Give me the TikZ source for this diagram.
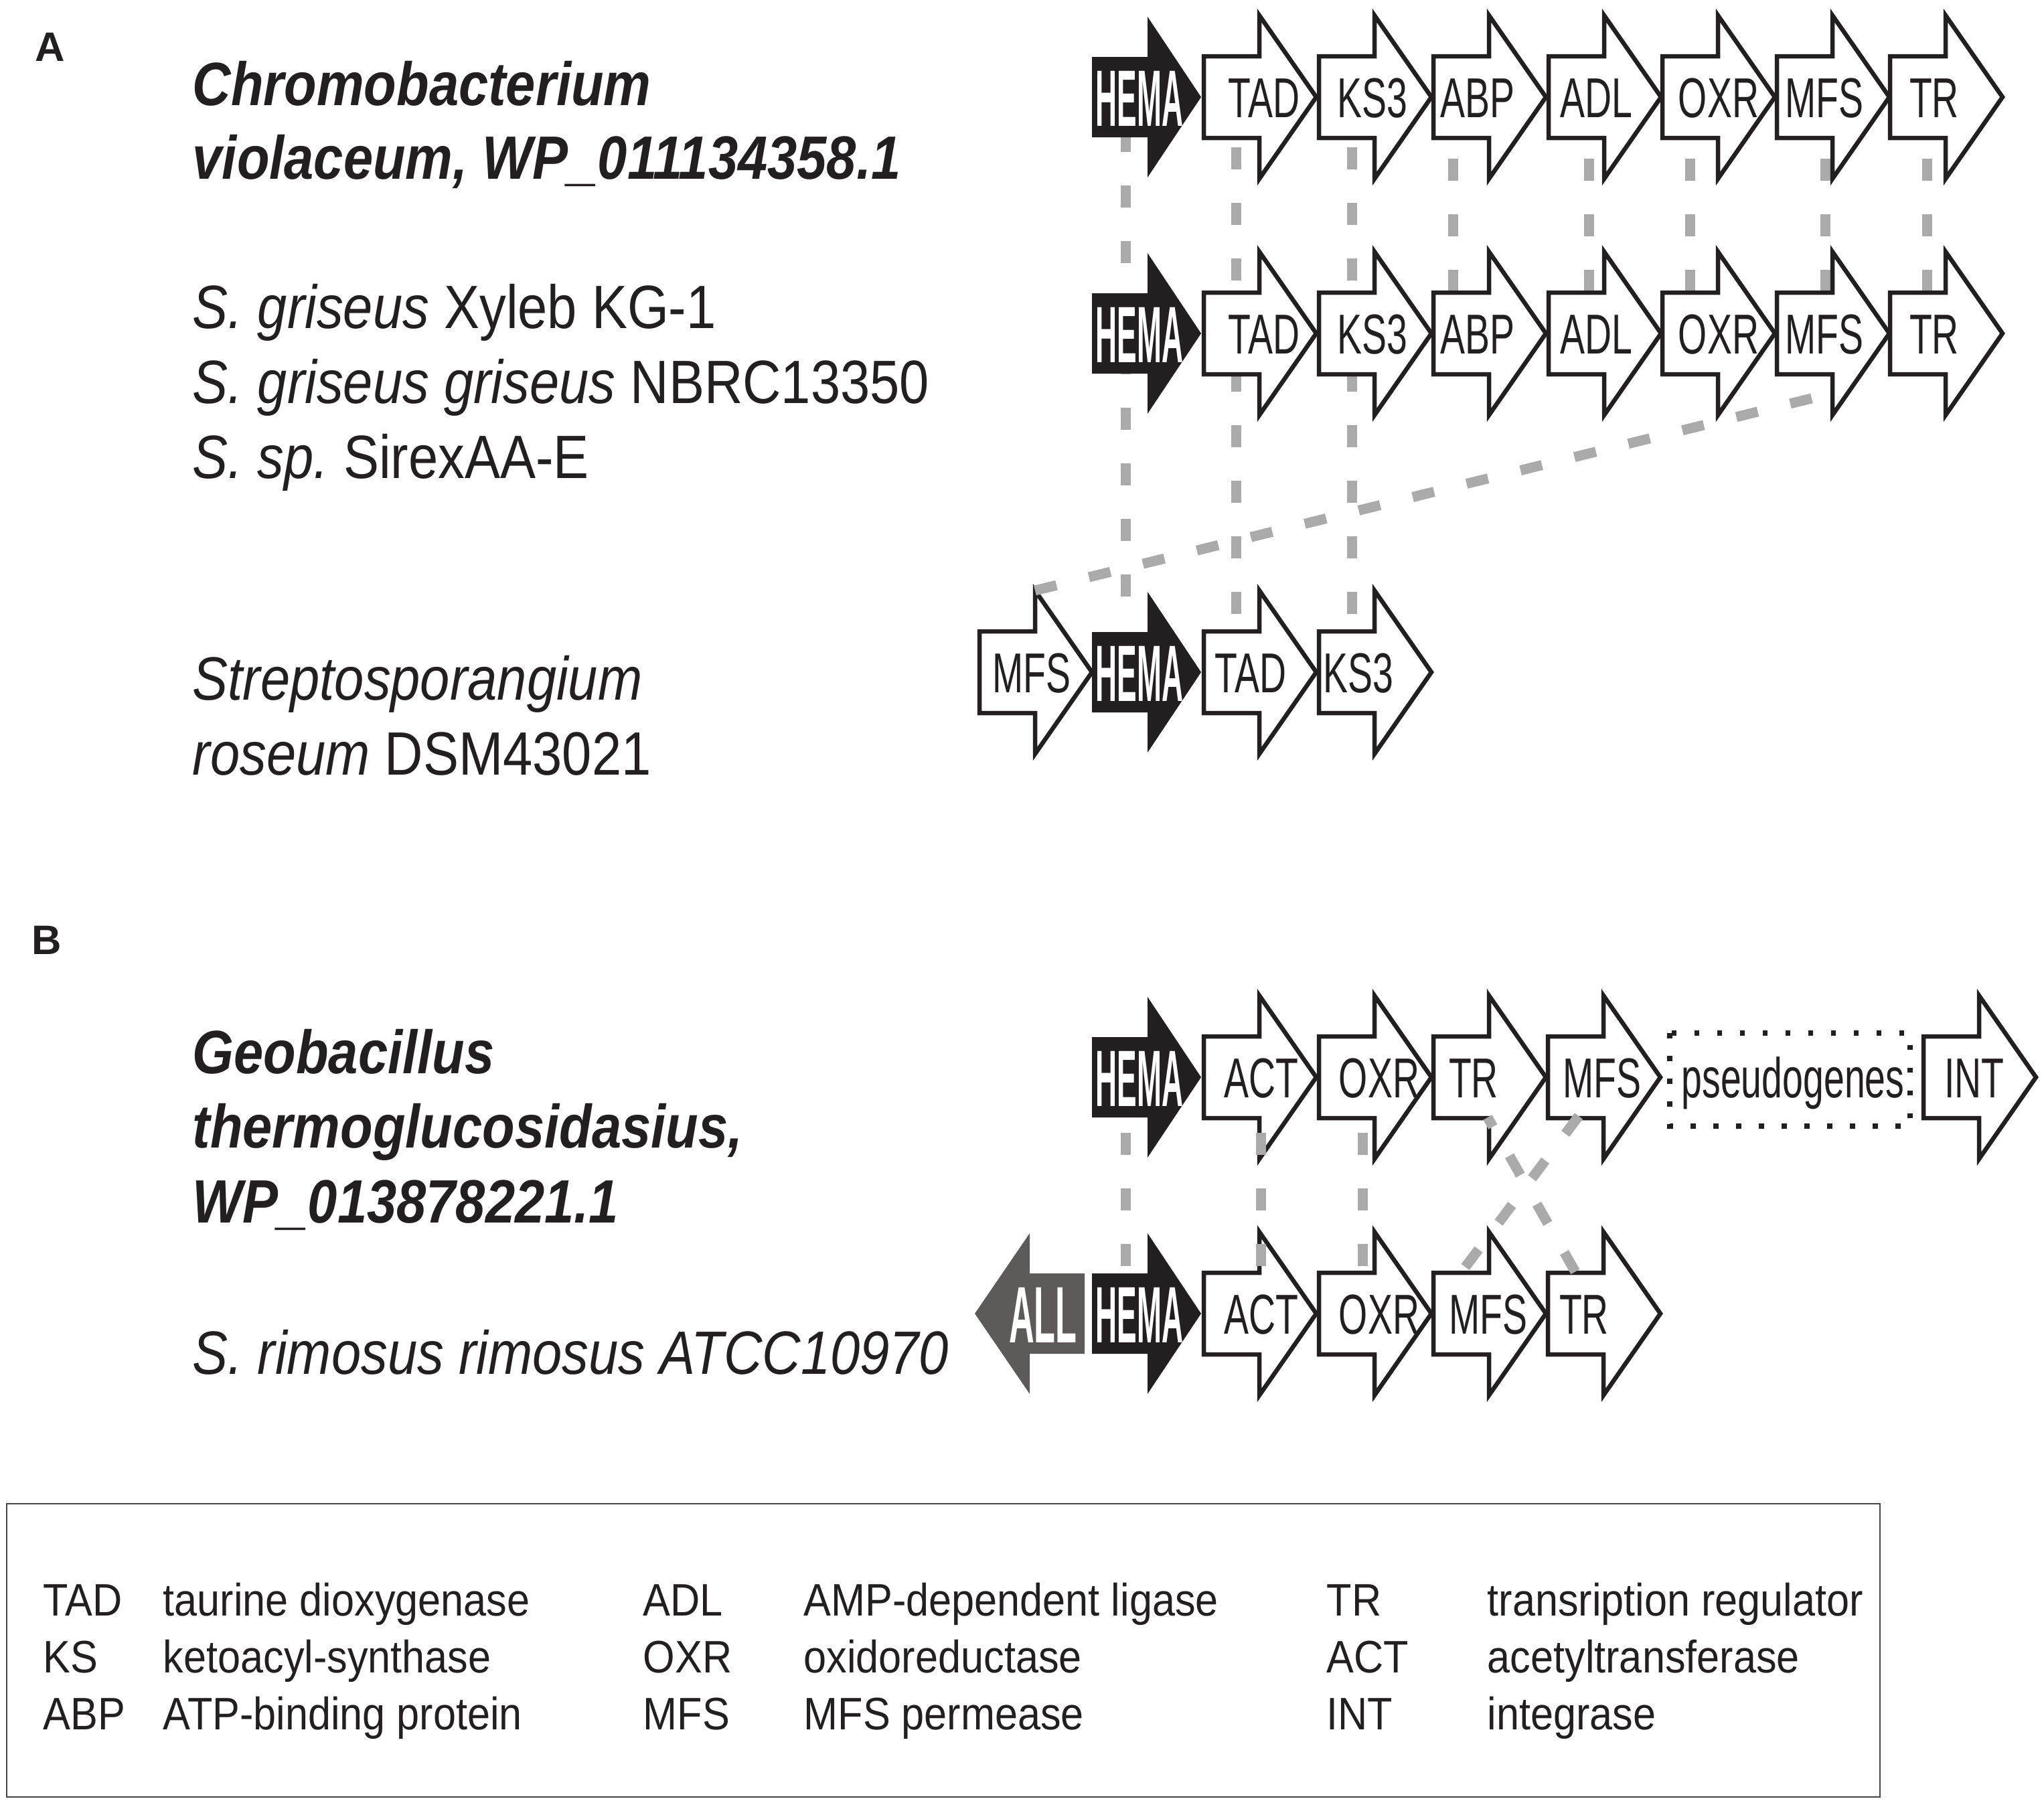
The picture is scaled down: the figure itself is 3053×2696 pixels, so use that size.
\documentclass[tikz,border=0pt]{standalone}
\usepackage{fontspec}
\setmainfont{Liberation Sans}[FakeStretch=0.87]
\newfontfamily\legendfont{Liberation Sans}[FakeStretch=0.9]
\newfontfamily\genefont{Liberation Sans}[FakeStretch=0.66]
\newfontfamily\hemafont{Liberation Sans}[FakeStretch=0.371]
\newfontfamily\allfont{Liberation Sans}[FakeStretch=0.437]
\newfontfamily\panelfont{Liberation Sans}
\frenchspacing
\definecolor{ink}{RGB}{35,31,32}
\definecolor{linkgray}{RGB}{170,170,170}
\definecolor{allgray}{RGB}{94,90,90}
\definecolor{boxgray}{RGB}{70,70,70}
\tikzset{
  gene/.style={fill=white, draw=ink, line width=0.65mm, line join=miter},
  hemaarrow/.style={fill=ink},
  allarrow/.style={fill=allgray},
  glabel/.style={anchor=base, inner sep=0pt, text=ink, font=\genefont\fontsize{23.9}{28}\selectfont},
  hlabel/.style={anchor=base, inner sep=0pt, text=white, font=\hemafont\bfseries\fontsize{34}{40}\selectfont},
  alabel/.style={anchor=base, inner sep=0pt, text=white, font=\allfont\bfseries\fontsize{34}{40}\selectfont},
  species/.style={anchor=base west, inner sep=0pt, text=ink, font=\frenchspacing\fontsize{26}{30}\selectfont},
  panel/.style={anchor=base west, inner sep=0pt, text=ink, font=\panelfont\bfseries\fontsize{17.5}{20}\selectfont},
  legend/.style={anchor=base west, inner sep=0pt, text=ink, font=\legendfont\fontsize{19.35}{23}\selectfont},
  link/.style={draw=linkgray, line width=1.5mm, dash pattern=on 3.3mm off 5mm},
  pseudobox/.style={draw=ink, line width=0.75mm, dash pattern=on 0.75mm off 2.65mm},
  legendbox/.style={draw=boxgray, line width=0.25mm},
}
\newcommand{\wgene}[2]{\path[gene] (#1,#2-61) -- ++(83,0) -- ++(0,-61) -- ++(85,122) -- ++(-85,122) -- ++(0,-61) -- ++(-83,0) -- cycle;}
\newcommand{\bgene}[2]{\path[hemaarrow] (#1,#2-60) -- ++(83,0) -- ++(0,-60) -- ++(80,120) -- ++(-80,120) -- ++(0,-60) -- ++(-83,0) -- cycle;}
\begin{document}
\begin{tikzpicture}[x=0.1mm,y=-0.1mm]
\useasboundingbox (0,0) rectangle (3053,2696);
\fill[white] (0,0) rectangle (3053,2696);

% ---------- panel A: link lines behind the genes ----------
\coordinate (lhA1) at (1681,194);  \coordinate (lhA3) at (1681,894);
\coordinate (ltA1) at (1846,220);  \coordinate (ltA3) at (1846,920);
\coordinate (lkA1) at (2019,220);  \coordinate (lkA3) at (2019,920);
\draw[link] (lhA1) -- (lhA3);
\draw[link] (ltA1) -- (ltA3);
\draw[link] (lkA1) -- (lkA3);
\foreach \x/\nm in {2170/abp,2373/adl,2524/oxr,2726/mfs,2878/tr}{
  \coordinate (l\nm A1) at (\x,237);
  \coordinate (l\nm A2) at (\x,437);
  \draw[link] (l\nm A1) -- (l\nm A2);
}

% ---------- panel A: genes ----------
\foreach \y in {145,498}{
  \bgene{1631}{\y}
  \foreach \x in {1798,1970,2141,2313,2483,2654,2823}{\wgene{\x}{\y}}
}
\wgene{1463}{1004}
\bgene{1631}{1004}
\wgene{1798}{1004}
\wgene{1970}{1004}

\foreach \r/\y in {1/145,2/498}{
  \pgfmathtruncatemacro{\yb}{\y+30}
  \pgfmathtruncatemacro{\yh}{\y+43}
  \node[hlabel] (a\r hema) at (1702,\yh) {HEMA};
  \foreach \lab/\x in {TAD/1888,KS3/2050,ABP/2207,ADL/2384,OXR/2567,MFS/2725,TR/2889}{
    \node[glabel] (a\r\lab) at (\x,\yb) {\lab};
  }
}
\node[glabel] (a3MFS) at (1541,1034) {MFS};
\node[hlabel] (a3hema) at (1702,1047) {HEMA};
\node[glabel] (a3TAD) at (1868,1034) {TAD};
\node[glabel] (a3KS3) at (2029,1034) {KS3};

% diagonal MFS link (on top)
\coordinate (lmfsA3) at (1546,882);
\coordinate (lmfsA2b) at (2714,593);
\draw[link] (lmfsA3) -- (lmfsA2b);

% ---------- panel B: genes ----------
\bgene{1631}{1609}
\foreach \x in {1798,1970,2141,2312,2873}{\wgene{\x}{1609}}
\path[pseudobox] (2494,1543) rectangle (2853,1682);

\path[allarrow] (1620,1902) -- (1538,1902) -- (1538,1842) -- (1456,1962) -- (1538,2082) -- (1538,2022) -- (1620,2022) -- cycle;
\bgene{1631}{1962}
\foreach \x in {1798,1970,2141,2312}{\wgene{\x}{1962}}

\node[hlabel] (b1hema) at (1702,1652) {HEMA};
\node[glabel] (b1ACT) at (1884,1639) {ACT};
\node[glabel] (b1OXR) at (2060,1639) {OXR};
\node[glabel] (b1TR) at (2201,1639) {TR};
\node[glabel] (b1MFS) at (2393,1639) {MFS};
\node[glabel] (b1pseudo) at (2678,1639) {pseudogenes};
\node[glabel] (b1INT) at (2949,1639) {INT};

\node[alabel] (b2ALL) at (1558,2005) {ALL};
\node[hlabel] (b2hema) at (1702,2005) {HEMA};
\node[glabel] (b2ACT) at (1884,1992) {ACT};
\node[glabel] (b2OXR) at (2060,1992) {OXR};
\node[glabel] (b2MFS) at (2223,1992) {MFS};
\node[glabel] (b2TR) at (2366,1992) {TR};

% ---------- panel B: link lines (on top) ----------
\foreach \x/\nm in {1681/hema,1883/act,2035/oxr}{
  \coordinate (l\nm B1) at (\x,1692);
  \coordinate (l\nm B2) at (\x,1891);
  \draw[link] (l\nm B1) -- (l\nm B2);
}
\coordinate (ltrB1) at (2222,1669);  \coordinate (ltrB2) at (2356,1905);
\coordinate (lmfsB1) at (2358,1667); \coordinate (lmfsB2) at (2183,1900);
\draw[link, dash phase=1.7mm] (ltrB1) -- (ltrB2);
\draw[link] (lmfsB1) -- (lmfsB2);

% ---------- texts ----------
\node[panel] (pA) at (52,91) {A};
\node[panel] (pB) at (47,1425) {B};

\node[species] (tchromo1) at (287,157) {\bfseries\itshape Chromobacterium};
\node[species] (tchromo2) at (287,267) {\bfseries\itshape violaceum, WP\_011134358.1};
\node[species] (tgri1) at (287,490) {\textit{S. griseus} Xyleb KG-1};
\node[species] (tgri2) at (287,602) {\textit{S. griseus griseus} NBRC13350};
\node[species] (tgri3) at (287,714) {\textit{S. sp.}\ SirexAA-E};
\node[species] (tstrep1) at (287,1045) {\itshape Streptosporangium};
\node[species] (tstrep2) at (287,1157) {\textit{roseum} DSM43021};
\node[species] (tgeo1) at (287,1603) {\bfseries\itshape Geobacillus};
\node[species] (tgeo2) at (287,1714) {\bfseries\itshape thermoglucosidasius,};
\node[species] (tgeo3) at (287,1826) {\bfseries\itshape WP\_013878221.1};
\node[species] (trim) at (287,2052) {\itshape S. rimosus rimosus ATCC10970};

% ---------- legend ----------
\path[legendbox] (10,2246) rectangle (2808,2684);
\foreach \a/\b/\c/\d/\e/\f/\y/\n in {
  TAD/taurine dioxygenase/ADL/AMP-dependent ligase/TR/transription regulator/2413/1,
  KS/ketoacyl-synthase/OXR/oxidoreductase/ACT/acetyltransferase/2498/2,
  ABP/ATP-binding protein/MFS/MFS permease/INT/integrase/2583/3}{
  \node[legend] (lg\n a) at (64,\y) {\a};
  \node[legend] (lg\n b) at (243,\y) {\b};
  \node[legend] (lg\n c) at (960,\y) {\c};
  \node[legend] (lg\n d) at (1200,\y) {\d};
  \node[legend] (lg\n e) at (1981,\y) {\e};
  \node[legend] (lg\n f) at (2221,\y) {\f};
}
\end{tikzpicture}
\end{document}
